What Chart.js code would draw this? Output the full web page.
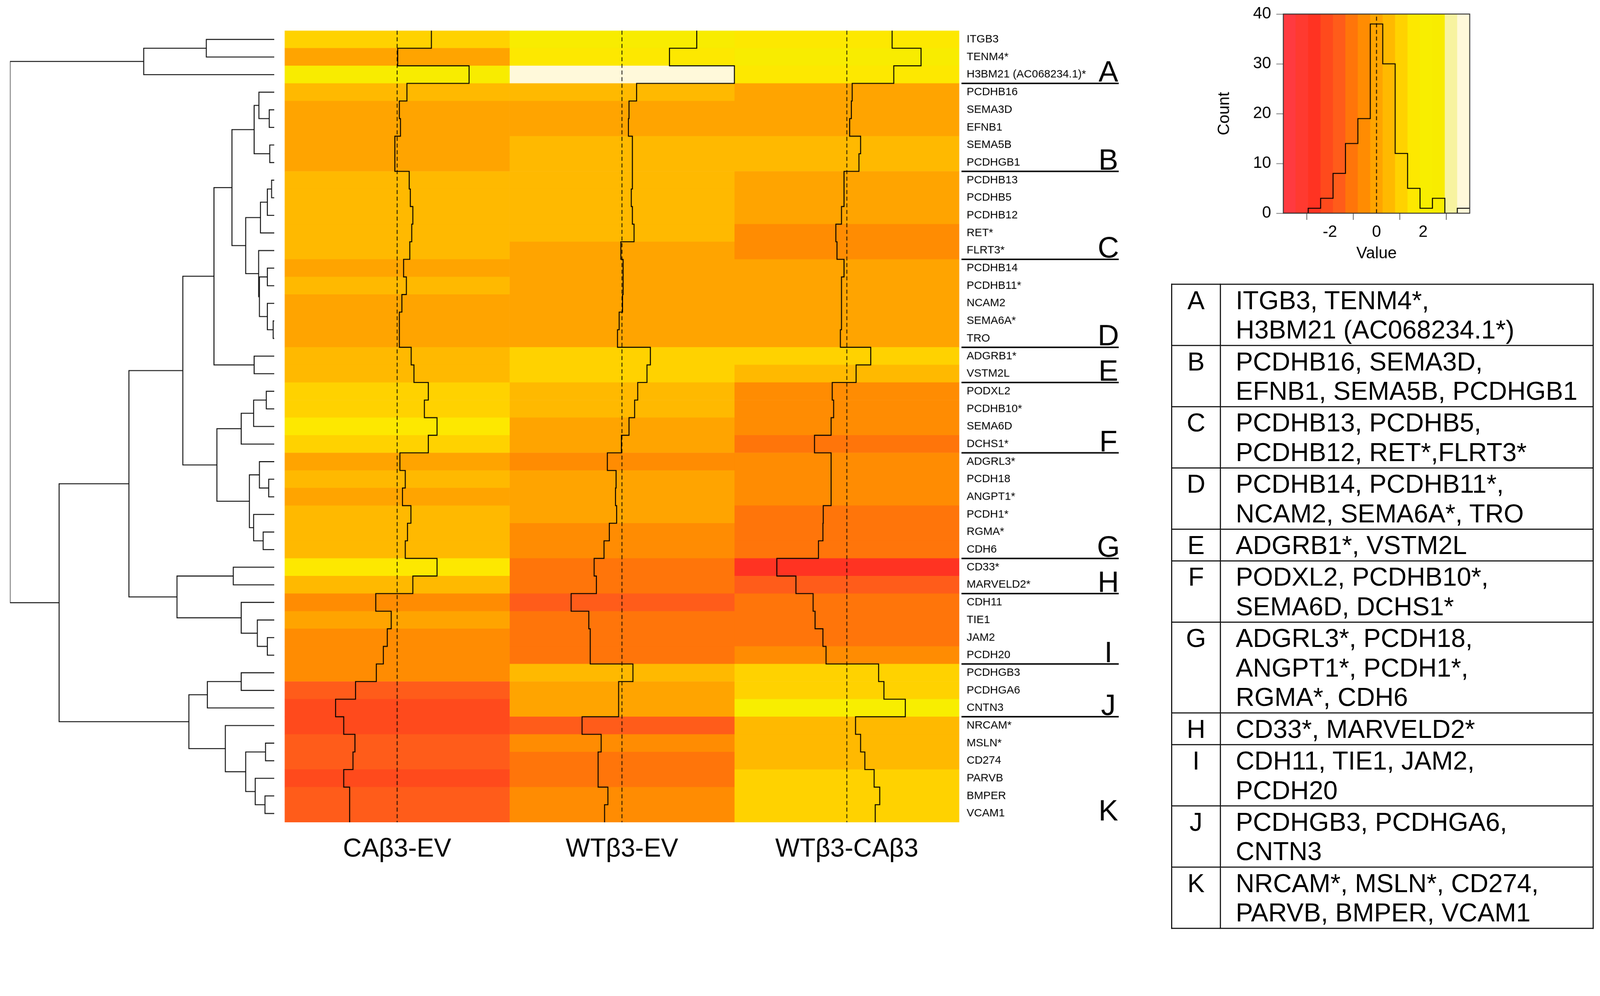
<!DOCTYPE html>
<html>
<head>
<meta charset="utf-8">
<script src="https://cdn.jsdelivr.net/npm/chart.js@4.4.1/dist/chart.umd.min.js"></script>
<style>
  html, body { margin: 0; padding: 0; background: #fff; overflow: hidden; }
  #stage { position: absolute; left: 0; top: 0; width: 4335px; height: 2551px; transform-origin: 0 0;
           font-family: "Liberation Sans", Arial, sans-serif; background: #fff; }
  .box { position: absolute; }
  #groupTable { position: absolute; left: 3173px; top: 769px; width: 1145px; border-collapse: collapse;
                font: 70px "Liberation Sans", Arial, sans-serif; color: #000; }
  #groupTable td { border: 3px solid #111; padding: 2px 0 1px 0; line-height: 80px; vertical-align: top; white-space: nowrap; }
  #groupTable td.letter { width: 129px; text-align: center; }
  #groupTable td.names { padding-left: 40px; }
</style>
</head>
<body>
<div id="stage">
  <div class="box" style="left:0;top:70px;width:770px;height:2170px"><canvas id="dendro"></canvas></div>
  <div class="box" style="left:770px;top:70px;width:2290px;height:2300px"><canvas id="heat"></canvas></div>
  <div class="box" style="left:3280px;top:0;width:720px;height:740px"><canvas id="key"></canvas></div>
  <table id="groupTable"></table>
</div>
<script>
// rows, top to bottom
const genes = ["ITGB3", "TENM4*", "H3BM21 (AC068234.1)*", "PCDHB16", "SEMA3D", "EFNB1", "SEMA5B", "PCDHGB1",
  "PCDHB13", "PCDHB5", "PCDHB12", "RET*", "FLRT3*", "PCDHB14", "PCDHB11*", "NCAM2", "SEMA6A*", "TRO",
  "ADGRB1*", "VSTM2L", "PODXL2", "PCDHB10*", "SEMA6D", "DCHS1*", "ADGRL3*", "PCDH18", "ANGPT1*", "PCDH1*",
  "RGMA*", "CDH6", "CD33*", "MARVELD2*", "CDH11", "TIE1", "JAM2", "PCDH20", "PCDHGB3", "PCDHGA6", "CNTN3",
  "NRCAM*", "MSLN*", "CD274", "PARVB", "BMPER", "VCAM1"];

const columns = ["CAβ3-EV", "WTβ3-EV", "WTβ3-CAβ3"];

// scaled values, one array per column
const caEV = [1.22, 0.02, 2.56, 0.35, 0.08, 0.12, -0.08, -0.08, 0.43, 0.47, 0.56, 0.52, 0.45, 0.23, 0.33,
  0.17, 0.08, 0.08, 0.50, 0.60, 1.11, 0.97, 1.42, 1.11, 0.10, 0.29, 0.19, 0.49, 0.37, 0.29, 1.42, 0.56,
  -0.76, -0.21, -0.35, -0.49, -0.74, -1.48, -2.19, -1.90, -1.50, -1.57, -1.90, -1.69, -1.69];
const wtEV = [2.66, 1.69, 4.00, 0.52, 0.25, 0.23, 0.37, 0.37, 0.37, 0.33, 0.37, 0.43, -0.04, 0.04, 0.04,
  0.02, -0.10, -0.16, 1.01, 0.89, 0.56, 0.45, 0.25, -0.02, -0.52, -0.21, -0.23, -0.19, -0.45, -0.64, -0.99,
  -0.91, -1.81, -1.18, -1.13, -1.13, 0.39, -0.12, -0.12, -1.42, -0.74, -0.85, -0.85, -0.50, -0.62];
const wtCA = [1.61, 2.64, 1.67, 0.19, 0.16, 0.10, 0.49, 0.43, -0.10, -0.10, -0.19, -0.39, -0.35, -0.10, -0.19,
  -0.19, -0.19, -0.23, 0.85, 0.33, -0.52, -0.47, -0.56, -1.15, -0.56, -0.56, -0.56, -0.84, -0.85, -1.01, -2.49,
  -1.81, -1.20, -1.13, -0.85, -0.74, 1.13, 1.32, 2.08, 0.31, 0.49, 0.64, 0.97, 1.17, 1.01];

// row dendrogram: [height, left, right], leaves are row indices
const rowTree = [10.0,
  [4.94, [2.57, 0, 1], 2],
  [8.14,
    [5.50,
      [3.46,
        [2.28,
          [1.60,
            [0.76, [0.58, 3, [0.19, 4, 5]], [0.17, 6, 7]],
            [1.08,
              [0.52, [0.26, [0.10, 8, 9], 10], 11],
              [0.59, 12, [0.56, [0.26, 13, 14], [0.26, 15, [0.04, 16, 17]]]]]],
          [0.76, 18, 19]],
        [2.17,
          [1.25, [0.78, [0.30, 20, 21], 22], 23],
          [0.94, [0.56, 24, [0.21, 25, 26]], [0.78, 27, [0.42, 28, 29]]]]],
      [3.68, [1.55, 30, 31], [1.25, 32, [0.64, 33, [0.26, 34, 35]]]]],
    [3.23,
      [2.53, [1.25, 36, 37], 38],
      [1.85, 39, [1.08, [0.33, 40, 41], [0.72, 42, [0.35, 43, 44]]]]]]];

// gene groups: letter and last row of each group
const groupLetters = ["A", "B", "C", "D", "E", "F", "G", "H", "I", "J", "K"];
const groupEnds = [2, 7, 12, 17, 19, 23, 29, 31, 35, 38, 44];
const groupTableLines = [
  ["ITGB3, TENM4*,", "H3BM21 (AC068234.1*)"],
  ["PCDHB16, SEMA3D,", "EFNB1, SEMA5B, PCDHGB1"],
  ["PCDHB13, PCDHB5,", "PCDHB12, RET*,FLRT3*"],
  ["PCDHB14, PCDHB11*,", "NCAM2, SEMA6A*, TRO"],
  ["ADGRB1*, VSTM2L"],
  ["PODXL2, PCDHB10*,", "SEMA6D, DCHS1*"],
  ["ADGRL3*, PCDH18,", "ANGPT1*, PCDH1*,", "RGMA*, CDH6"],
  ["CD33*, MARVELD2*"],
  ["CDH11, TIE1, JAM2,", "PCDH20"],
  ["PCDHGB3, PCDHGA6,", "CNTN3"],
  ["NRCAM*, MSLN*, CD274,", "PARVB, BMPER, VCAM1"]
];

const keyValueTicks = [-2, 0, 2];
const keyCountTicks = [0, 10, 20, 30, 40];

// heat.colors(15) as it comes out in the figure (red -> yellow -> cream)
const palette = ["#ff3a40", "#ff3a30", "#ff3322", "#ff4a1c", "#ff5c1a", "#ff750a", "#ff8c02", "#ffa400",
  "#ffb900", "#ffd200", "#fde800", "#f8ee00", "#f8ec00", "#f7f3a0", "#fff9da"];

// fit the 4335-wide stage to the real viewport width
const stageScale = window.innerWidth / 4335;
document.getElementById("stage").style.transform = `scale(${stageScale})`;

Chart.defaults.font.family = '"Liberation Sans", Arial, sans-serif';
Chart.defaults.color = "#000";

const colData = [caEV, wtEV, wtCA];
const nBins = palette.length;
const maxAbs = Math.max(...colData.flat().map(Math.abs));
const binWidth = 2 * maxAbs / nBins;
const breaks = palette.map((_, k) => -maxAbs + k * binWidth).concat([maxAbs]);
const binOf = v => Math.min(nBins - 1, Math.floor((v + maxAbs) / binWidth));
const counts = palette.map(() => 0);
colData.flat().forEach(v => counts[binOf(v)]++);

const noPad = scale => { scale.paddingTop = 0; scale.paddingBottom = 0; scale.paddingLeft = 0; scale.paddingRight = 0; };

// ---------- dendrogram ----------
const dendroSets = [];
function placeNode(node) {
  if (typeof node === "number") return { y: node + 0.5, h: 0 };
  const [h, a, b] = node;
  const l = placeNode(a), r = placeNode(b);
  dendroSets.push({
    data: [{ x: l.h, y: l.y }, { x: h, y: l.y }, { x: h, y: r.y }, { x: r.h, y: r.y }],
    borderColor: "#111", borderWidth: 2.6, pointRadius: 0, tension: 0, fill: false
  });
  return { y: (l.y + r.y) / 2, h };
}
placeNode(rowTree);

new Chart(document.getElementById("dendro"), {
  type: "line",
  data: { datasets: dendroSets },
  options: {
    responsive: true, maintainAspectRatio: false, animation: false, events: [],
    layout: { padding: { left: 27, right: 27, top: 13, bottom: 11 } },
    plugins: { legend: { display: false }, tooltip: { enabled: false } },
    scales: {
      x: { type: "linear", display: false, min: 0, max: rowTree[0], reverse: true },
      y: { type: "linear", display: false, min: 0, max: genes.length, reverse: true }
    }
  }
});

// ---------- heatmap ----------
const cellSets = colData.map((vals, c) => ({
  type: "bar",
  label: columns[c],
  data: genes.map((_, i) => ({ x: [c, c + 1], y: i + 0.5 })),
  backgroundColor: vals.map(v => palette[binOf(v)]),
  borderWidth: 0,
  grouped: false,
  barPercentage: 1,
  categoryPercentage: 1,
  order: 3
}));

const centerSets = columns.map((_, c) => ({
  type: "line", indexAxis: "x",
  data: [{ x: c + 0.5, y: 0 }, { x: c + 0.5, y: genes.length }],
  borderColor: "#000", borderWidth: 2, borderDash: [11, 7], pointRadius: 0, fill: false, order: 2
}));

const traceSets = colData.map((vals, c) => ({
  type: "line", indexAxis: "x",
  data: vals.flatMap((v, i) => [
    { x: c + 0.5 + v / (2 * maxAbs), y: i },
    { x: c + 0.5 + v / (2 * maxAbs), y: i + 1 }
  ]),
  borderColor: "#000", borderWidth: 2.6, pointRadius: 0, tension: 0, fill: false, order: 1
}));

const groupMarks = {
  id: "groupMarks",
  afterDatasetsDraw(chart) {
    const { ctx, chartArea } = chart;
    const y = chart.scales.y;
    ctx.save();
    ctx.strokeStyle = "#000";
    ctx.fillStyle = "#000";
    ctx.lineWidth = 4;
    ctx.font = '80px "Liberation Sans", Arial, sans-serif';
    ctx.textAlign = "center";
    ctx.textBaseline = "alphabetic";
    groupEnds.forEach((end, g) => {
      const yPix = y.getPixelForValue(end + 1);
      if (g < groupEnds.length - 1) {
        ctx.beginPath();
        ctx.moveTo(chartArea.right + 6, yPix);
        ctx.lineTo(chartArea.right + 432, yPix);
        ctx.stroke();
      }
      ctx.fillText(groupLetters[g], chartArea.right + 404, yPix - 5);
    });
    ctx.restore();
  }
};

new Chart(document.getElementById("heat"), {
  type: "bar",
  data: { datasets: [...cellSets, ...centerSets, ...traceSets] },
  options: {
    indexAxis: "y",
    responsive: true, maintainAspectRatio: false, animation: false, events: [],
    layout: { padding: { top: 13, left: 0, right: 0, bottom: 0 } },
    plugins: { legend: { display: false }, tooltip: { enabled: false } },
    scales: {
      x: {
        type: "linear", min: 0, max: columns.length, offset: false,
        grid: { display: false }, border: { display: false },
        afterBuildTicks: axis => { axis.ticks = columns.map((_, i) => ({ value: i + 0.5 })); },
        afterFit: scale => { scale.height = 141; noPad(scale); },
        ticks: { callback: (v, i) => columns[i], font: { size: 70 }, color: "#000", padding: 24,
                 maxRotation: 0, autoSkip: false }
      },
      y: {
        type: "linear", position: "right", min: 0, max: genes.length, reverse: true, offset: false,
        grid: { display: false, drawTicks: false }, border: { display: false },
        afterBuildTicks: axis => { axis.ticks = genes.map((_, i) => ({ value: i + 0.5 })); },
        afterFit: scale => { scale.width = 461; noPad(scale); },
        ticks: { callback: (v, i) => genes[i], font: { size: 30 }, color: "#000", padding: 20, autoSkip: false }
      }
    }
  },
  plugins: [groupMarks]
});

// ---------- colour key with histogram ----------
const keyTop = keyCountTicks[keyCountTicks.length - 1];
const histPoints = counts.map((n, k) => ({ x: breaks[k], y: n })).concat([{ x: breaks[nBins], y: counts[nBins - 1] }]);

const keyFrame = {
  id: "keyFrame",
  afterDatasetsDraw(chart) {
    const { ctx, chartArea } = chart;
    ctx.save();
    ctx.strokeStyle = "#333";
    ctx.lineWidth = 2.5;
    ctx.strokeRect(chartArea.left, chartArea.top, chartArea.right - chartArea.left, chartArea.bottom - chartArea.top);
    ctx.restore();
  }
};

new Chart(document.getElementById("key"), {
  type: "bar",
  data: {
    datasets: [
      {
        type: "bar",
        data: palette.map((_, k) => ({ x: breaks[k] + binWidth / 2, y: keyTop })),
        backgroundColor: palette, borderWidth: 0, barPercentage: 1, categoryPercentage: 1, order: 3
      },
      {
        type: "line", data: [{ x: 0, y: 0 }, { x: 0, y: keyTop }],
        borderColor: "#000", borderWidth: 2.2, borderDash: [11, 7], pointRadius: 0, fill: false, order: 2
      },
      {
        type: "line", data: histPoints, stepped: true,
        borderColor: "#000", borderWidth: 2.6, pointRadius: 0, fill: false, order: 1
      }
    ]
  },
  options: {
    responsive: true, maintainAspectRatio: false, animation: false, events: [],
    layout: { padding: { top: 38, right: 18, left: 0, bottom: 0 } },
    plugins: { legend: { display: false }, tooltip: { enabled: false } },
    scales: {
      x: {
        type: "linear", min: breaks[0], max: breaks[nBins], offset: false,
        grid: { drawOnChartArea: false, tickLength: 18, tickColor: "#555", tickWidth: 2 },
        border: { display: false },
        afterBuildTicks: axis => { axis.ticks = keyValueTicks.map(v => ({ value: v })); },
        afterFit: scale => { scale.height = 162; noPad(scale); },
        ticks: { font: { size: 44 }, color: "#000", padding: 7, maxRotation: 0 },
        title: { display: true, text: "Value", font: { size: 44 }, color: "#000", padding: { top: 0, bottom: 26 } }
      },
      y: {
        type: "linear", min: 0, max: keyTop,
        grid: { drawOnChartArea: false, tickLength: 19, tickColor: "#777", tickWidth: 2 },
        border: { display: false },
        afterBuildTicks: axis => { axis.ticks = keyCountTicks.map(v => ({ value: v })); },
        afterFit: scale => { scale.width = 197; noPad(scale); },
        ticks: { font: { size: 44 }, color: "#000", padding: 14 },
        title: { display: true, text: "Count", font: { size: 44 }, color: "#000", padding: { top: 11, bottom: 0 } }
      }
    }
  },
  plugins: [keyFrame]
});

// ---------- group table ----------
const table = document.getElementById("groupTable");
groupLetters.forEach((letter, g) => {
  const tr = document.createElement("tr");
  const tdL = document.createElement("td");
  tdL.className = "letter";
  tdL.textContent = letter;
  const tdN = document.createElement("td");
  tdN.className = "names";
  groupTableLines[g].forEach((line, i) => {
    if (i > 0) tdN.appendChild(document.createElement("br"));
    tdN.appendChild(document.createTextNode(line));
  });
  tr.appendChild(tdL);
  tr.appendChild(tdN);
  table.appendChild(tr);
});
</script>
</body>
</html>
